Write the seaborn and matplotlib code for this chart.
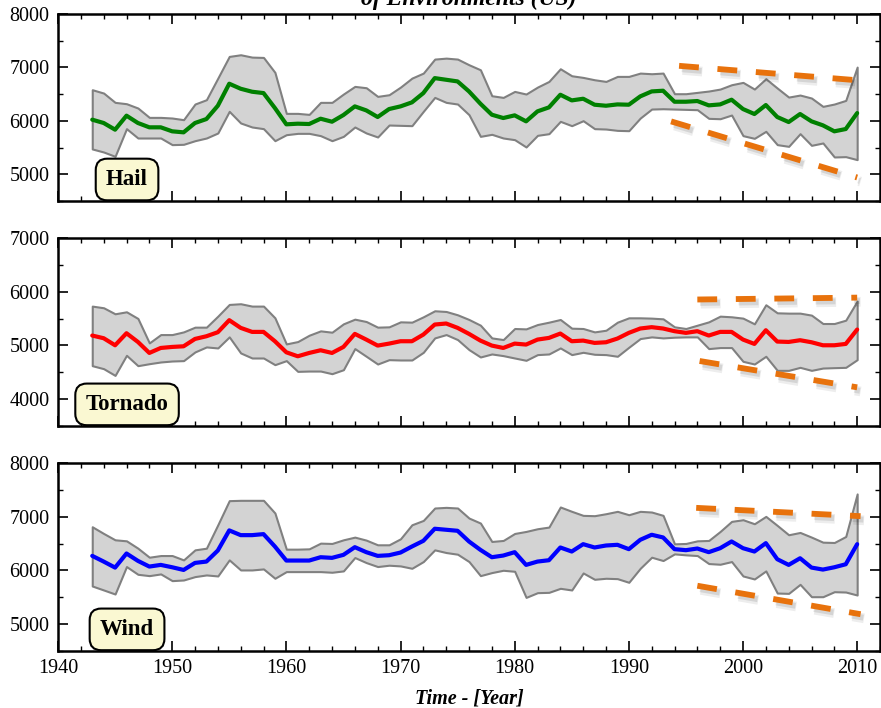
import numpy as np
import pandas as pd
import matplotlib
matplotlib.use("Agg")
import matplotlib.pyplot as plt
import matplotlib.patheffects as pe
from matplotlib.ticker import MultipleLocator
import seaborn as sns

years = list(range(1943, 2011))

hail_mean = [6022, 5960, 5835, 6097, 5960, 5879, 5879, 5804, 5785, 5960, 6034, 6283, 6695, 6601, 6545, 6520,
             6240, 5935, 5947, 5941, 6040, 5984, 6109, 6271, 6196, 6072, 6221, 6271, 6346, 6520, 6800, 6769,
             6738, 6551, 6321, 6115, 6053, 6103, 5991, 6178, 6252, 6489, 6383, 6414, 6302, 6283, 6308, 6302,
             6458, 6551, 6564, 6358, 6358, 6371, 6290, 6308, 6396, 6221, 6128, 6296, 6072, 5978, 6128, 5991,
             5916, 5804, 5847, 6146]
hail_upper = [6583, 6520, 6346, 6321, 6240, 6065, 6065, 6053, 6022, 6315, 6396, 6800, 7206, 7237, 7193, 7187,
              6907, 6140, 6140, 6121, 6346, 6346, 6502, 6645, 6620, 6458, 6489, 6632, 6800, 6894, 7156, 7174,
              7156, 7050, 6956, 6470, 6439, 6551, 6502, 6632, 6738, 6975, 6844, 6813, 6769, 6738, 6832, 6832,
              6894, 6882, 6894, 6508, 6508, 6533, 6558, 6595, 6676, 6720, 6595, 6788, 6614, 6445, 6483, 6427,
              6271, 6315, 6383, 7006]
hail_lower = [5474, 5417, 5336, 5854, 5679, 5679, 5679, 5555, 5561, 5629, 5679, 5773, 6178, 5960, 5885, 5854,
              5629, 5741, 5766, 5766, 5723, 5629, 5710, 5885, 5773, 5698, 5922, 5916, 5910, 6178, 6439, 6346,
              6315, 6115, 5710, 5748, 5679, 5648, 5511, 5729, 5760, 5991, 5910, 6003, 5854, 5847, 5822, 5816,
              6053, 6221, 6227, 6221, 6215, 6209, 6047, 6040, 6109, 5723, 5673, 5804, 5555, 5523, 5760, 5542,
              5586, 5324, 5330, 5274]

tornado_mean = [5184, 5134, 5003, 5227, 5065, 4860, 4953, 4972, 4984, 5121, 5171, 5246, 5470, 5327, 5252, 5252,
                5078, 4872, 4798, 4860, 4910, 4860, 4972, 5215, 5109, 4997, 5034, 5078, 5078, 5202, 5389, 5408,
                5327, 5215, 5090, 4997, 4953, 5034, 5016, 5109, 5140, 5221, 5078, 5090, 5047, 5059, 5128, 5234,
                5315, 5340, 5315, 5265, 5234, 5265, 5184, 5252, 5252, 5109, 5028, 5283, 5072, 5065, 5097, 5059,
                5003, 5003, 5028, 5296]
tornado_upper = [5732, 5701, 5589, 5626, 5502, 5047, 5202, 5202, 5252, 5340, 5340, 5545, 5763, 5776, 5732, 5732,
                 5514, 5028, 5072, 5190, 5271, 5246, 5402, 5489, 5445, 5340, 5346, 5439, 5433, 5533, 5645, 5632,
                 5570, 5483, 5377, 5140, 5109, 5315, 5308, 5389, 5433, 5483, 5321, 5315, 5252, 5283, 5433, 5514,
                 5514, 5508, 5495, 5346, 5315, 5377, 5439, 5545, 5533, 5508, 5402, 5757, 5607, 5601, 5601, 5564,
                 5408, 5408, 5470, 5826]
tornado_lower = [4623, 4567, 4442, 4816, 4623, 4660, 4692, 4710, 4717, 4879, 4972, 4953, 5159, 4860, 4766, 4766,
                 4642, 4717, 4517, 4523, 4523, 4474, 4548, 4941, 4798, 4654, 4735, 4729, 4729, 4872, 5140, 5202,
                 5109, 4922, 4785, 4841, 4810, 4766, 4723, 4829, 4841, 4953, 4829, 4872, 4835, 4829, 4798, 4966,
                 5128, 5159, 5140, 5153, 5159, 5159, 4941, 4960, 4960, 4704, 4654, 4798, 4536, 4536, 4592, 4536,
                 4579, 4586, 4592, 4735]

wind_mean = [6271, 6165, 6053, 6315, 6178, 6072, 6103, 6059, 6009, 6140, 6165, 6371, 6745, 6657, 6657, 6676,
             6445, 6184, 6184, 6184, 6246, 6234, 6290, 6433, 6340, 6271, 6283, 6333, 6445, 6551, 6776, 6757,
             6738, 6539, 6383, 6246, 6277, 6340, 6103, 6165, 6190, 6427, 6352, 6489, 6427, 6464, 6477, 6396,
             6570, 6664, 6614, 6396, 6377, 6408, 6340, 6414, 6539, 6414, 6352, 6508, 6209, 6103, 6227, 6053,
             6016, 6059, 6115, 6489]
wind_upper = [6813, 6688, 6570, 6551, 6414, 6246, 6277, 6277, 6196, 6383, 6414, 6850, 7299, 7305, 7305, 7305,
              7069, 6396, 6396, 6402, 6508, 6502, 6570, 6620, 6564, 6477, 6477, 6589, 6850, 6931, 7162, 7174,
              7162, 6975, 6882, 6539, 6558, 6688, 6726, 6776, 6807, 7181, 7100, 7025, 7019, 7056, 7100, 7037,
              7100, 7087, 7025, 6495, 6502, 6551, 6558, 6726, 6913, 6944, 6869, 7006, 6838, 6664, 6707, 6620,
              6526, 6520, 6632, 7424]
wind_lower = [5710, 5636, 5561, 6072, 5928, 5903, 5935, 5810, 5822, 5885, 5916, 5897, 6196, 6009, 6009, 6028,
              5854, 5978, 5978, 5978, 5978, 5966, 5991, 6240, 6146, 6072, 6097, 6084, 6040, 6165, 6383, 6333,
              6302, 6165, 5903, 5960, 6003, 5984, 5498, 5586, 5592, 5667, 5636, 5953, 5835, 5854, 5847, 5779,
              6040, 6246, 6184, 6308, 6290, 6277, 6128, 6115, 6165, 5897, 5841, 5991, 5579, 5573, 5741, 5511,
              5511, 5604, 5598, 5542]

# trend guides drawn in the last part of each panel: (x0, x1), (y0, y1)
hail_trend_upper = ([1994.4, 2010.0], [7030, 6760])
hail_trend_lower = ([1993.7, 2010.0], [5990, 4940])
tornado_trend_upper = ([1996.0, 2010.0], [5855, 5890])
tornado_trend_lower = ([1996.2, 2010.0], [4710, 4220])
wind_trend_upper = ([1995.9, 2010.3], [7165, 7010])
wind_trend_lower = ([1996.0, 2010.3], [5715, 5185])

panel_ylims = [(4500, 8000), (3500, 7000), (4500, 8000)]

sns.set_style("ticks")
plt.rcParams['font.family'] = ['Liberation Serif', 'DejaVu Serif']
plt.rcParams['axes.linewidth'] = 1.8
for key in ['text.color', 'axes.labelcolor', 'xtick.color', 'ytick.color', 'axes.edgecolor']:
    plt.rcParams[key] = 'black'

panels = [
    ("Hail", hail_mean, hail_upper, hail_lower, "#008000", [hail_trend_upper, hail_trend_lower]),
    ("Tornado", tornado_mean, tornado_upper, tornado_lower, "#ff0000", [tornado_trend_upper, tornado_trend_lower]),
    ("Wind", wind_mean, wind_upper, wind_lower, "#0000ff", [wind_trend_upper, wind_trend_lower]),
]

fig = plt.figure(figsize=(8.81, 7.08), dpi=100)
rects = [
    [58 / 881, 1 - 201 / 708, 822 / 881, 187 / 708],
    [58 / 881, 1 - 426 / 708, 822 / 881, 188 / 708],
    [58 / 881, 1 - 651 / 708, 822 / 881, 188 / 708],
]

trend_color = "#e8720c"
shadow = [pe.SimpleLineShadow(offset=(2.5, -3.0), alpha=0.07, shadow_color="black", linewidth=7),
          pe.SimpleLineShadow(offset=(2.0, -2.5), alpha=0.10, shadow_color="black"),
          pe.Normal()]

for i, (name, mean, upper, lower, color, trends) in enumerate(panels):
    ax = fig.add_axes(rects[i])
    df = pd.DataFrame({"Year": years, "Mean": mean, "Upper": upper, "Lower": lower})

    ax.fill_between(df["Year"], df["Lower"], df["Upper"], facecolor="#d3d3d3",
                    edgecolor="#808080", linewidth=1.5, zorder=1)
    sns.lineplot(data=df, x="Year", y="Mean", color=color, linewidth=3, ax=ax, zorder=3)

    for tx, ty in trends:
        ax.plot(tx, ty, color=trend_color, linewidth=4.2, dashes=(3.4, 3.2),
                solid_capstyle="butt", dash_capstyle="butt", zorder=4, path_effects=shadow)

    ax.set_xlim(1940, 2012)
    ax.set_ylim(*panel_ylims[i])
    ax.xaxis.set_major_locator(MultipleLocator(10))
    ax.xaxis.set_minor_locator(MultipleLocator(2))
    ax.yaxis.set_major_locator(MultipleLocator(1000))
    ax.yaxis.set_minor_locator(MultipleLocator(500))
    ax.tick_params(which="both", direction="in", top=True, right=True, labelsize=14.5)
    ax.tick_params(which="major", length=7, width=1.2, pad=6)
    ax.tick_params(which="minor", length=3.5, width=1.0)
    ax.set_ylabel("")
    ax.set_xlabel("")
    if i < 2:
        ax.tick_params(labelbottom=False)

    ax.text(0.084, 0.115, name, transform=ax.transAxes, ha="center", va="center",
            fontsize=16.5, fontweight="bold", zorder=5,
            bbox=dict(boxstyle="round,pad=0.45,rounding_size=0.5", facecolor="#faf8d2",
                      edgecolor="black", linewidth=1.5))

    if i == 2:
        ax.set_xlabel("Time - [Year]", fontsize=14.5, fontweight="bold", style="italic", labelpad=7)

# the figure's title runs off the top edge, as in the original
fig.text(469 / 881, 1 - 5 / 708, "of Environments (US)", ha="center", va="baseline",
         fontsize=17, fontweight="bold", style="italic")

fig.savefig("out.png", dpi=100)
